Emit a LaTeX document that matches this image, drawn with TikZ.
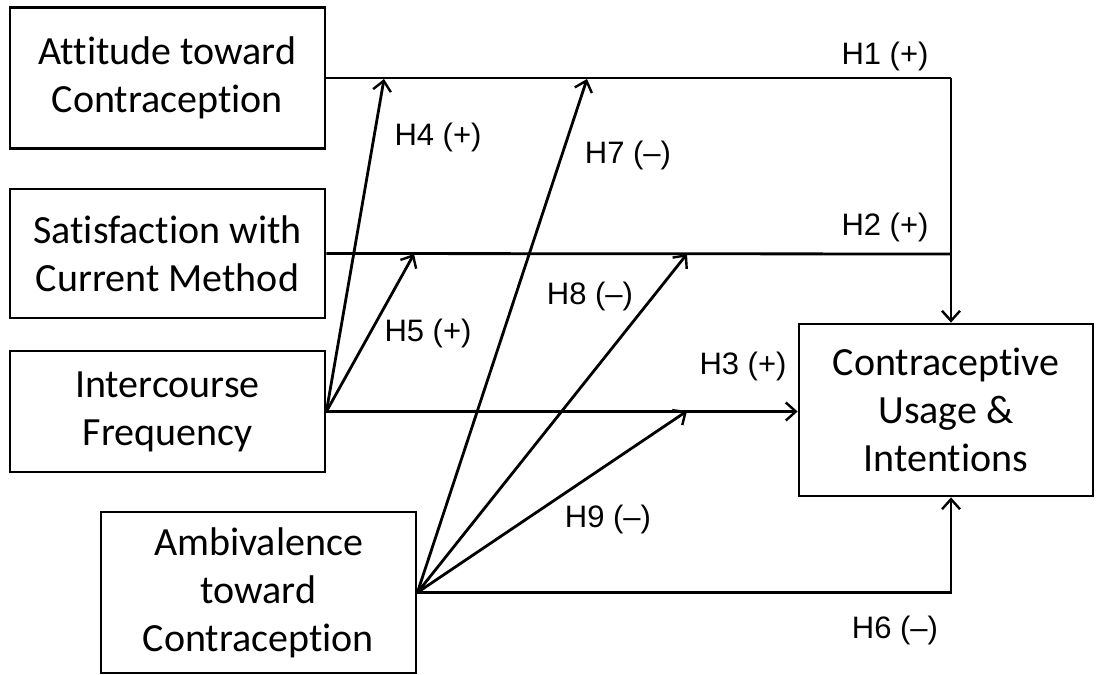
\documentclass[tikz,border=0pt]{standalone}
\usepackage{fontspec}
\setmainfont{Carlito}[Ligatures=NoCommon]
\newfontfamily\lblfont{Liberation Sans}
\usetikzlibrary{arrows.meta}
\tikzset{
  box/.style={draw, line width=1.4pt, align=center, inner sep=0pt, font=\fontsize{20}{24}\selectfont},
  conn/.style={line width=1.4pt},
  arr/.style={line width=1.4pt, -{Straight Barb[length=5pt,width=9pt,line width=1.2pt]}},
  lbl/.style={font=\lblfont\fontsize{15.5}{17}\selectfont, inner sep=0pt}
}
\begin{document}
\begin{tikzpicture}[x=0.5pt,y=-0.5pt]
\useasboundingbox (0,0) rectangle (1096,674);
% boxes
\node[box, minimum width=157.5pt, minimum height=70.5pt] (att) at (167.5,78) {Attitude toward\\Contraception};
\node[box, minimum width=157.5pt, minimum height=64.5pt] (sat) at (167.5,253.5) {Satisfaction with\\Current Method};
\node[box, minimum width=157.5pt, minimum height=60.5pt] (inter) at (167.5,411.5) {Intercourse\\Frequency};
\node[box, minimum width=157.5pt, minimum height=80.5pt] (amb) at (258.5,592.5) {Ambivalence\\toward\\Contraception};
\node[box, minimum width=147pt, minimum height=86pt] (cont) at (946,410) {Contraceptive\\Usage \&\\Intentions};
% junctions and tips
\coordinate (j1) at (951,78);
\coordinate (j2) at (951,254);
\coordinate (t4) at (384,79);
\coordinate (t5) at (414,254);
\coordinate (t7) at (587,79);
\coordinate (t8) at (687,254);
\coordinate (t9) at (687,411);
% connectors
\draw[conn] (att.east) -- (j1);
\draw[conn] (sat.east) -- (j2);
\draw[arr] (j1) -- (j1 |- cont.north);
\draw[arr] (inter.east) -- (inter.east -| cont.west);
\draw[arr] (amb.east) -| (j1 |- cont.south);
\draw[arr] (inter.east) -- (t4);
\draw[arr] (inter.east) -- (t5);
\draw[arr] (amb.east) -- (t7);
\draw[arr] (amb.east) -- (t8);
\draw[arr] (amb.east) -- (t9);
% labels
\node[lbl] (l1) at (885,56) {H1 (+)};
\node[lbl] (l2) at (885,227) {H2 (+)};
\node[lbl] (l3) at (743,366) {H3 (+)};
\node[lbl] (l4) at (438,137) {H4 (+)};
\node[lbl] (l5) at (428,333) {H5 (+)};
\node[lbl] (l6) at (895,630) {H6 (–)};
\node[lbl] (l7) at (628,155) {H7 (–)};
\node[lbl] (l8) at (590,296) {H8 (–)};
\node[lbl] (l9) at (608,519) {H9 (–)};
\end{tikzpicture}
\end{document}
